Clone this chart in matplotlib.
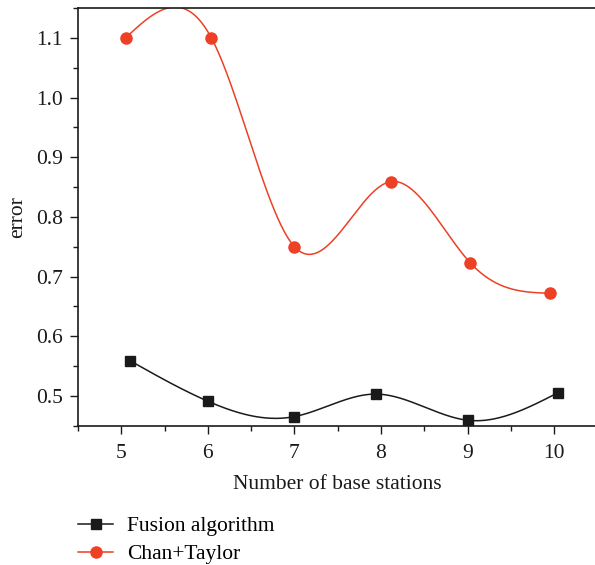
import numpy as np
import matplotlib
matplotlib.use("Agg")
import matplotlib.pyplot as plt
from matplotlib.ticker import MultipleLocator

plt.rcParams['font.family'] = ['Liberation Serif', 'DejaVu Serif']

fusion_x = [5.10, 6.00, 6.99, 7.94, 9.01, 10.04]
fusion_y = [0.559, 0.491, 0.465, 0.503, 0.459, 0.505]
chan_x = [5.05, 6.04, 7.00, 8.11, 9.03, 9.95]
chan_y = [1.100, 1.100, 0.750, 0.859, 0.723, 0.672]
labels = ["Fusion algorithm", "Chan+Taylor"]


def natural_spline(x, y, n=400):
    x = np.asarray(x, float); y = np.asarray(y, float)
    k = len(x); h = np.diff(x)
    A = np.zeros((k, k)); b = np.zeros(k)
    A[0, 0] = A[-1, -1] = 1
    for i in range(1, k - 1):
        A[i, i - 1] = h[i - 1]; A[i, i] = 2 * (h[i - 1] + h[i]); A[i, i + 1] = h[i]
        b[i] = 3 * ((y[i + 1] - y[i]) / h[i] - (y[i] - y[i - 1]) / h[i - 1])
    c = np.linalg.solve(A, b)
    xs = np.linspace(x[0], x[-1], n)
    idx = np.clip(np.searchsorted(x, xs) - 1, 0, k - 2)
    dx = xs - x[idx]
    bb = (y[1:] - y[:-1]) / h - h * (2 * c[:-1] + c[1:]) / 3
    d = (c[1:] - c[:-1]) / (3 * h)
    ys = y[idx] + bb[idx] * dx + c[idx] * dx ** 2 + d[idx] * dx ** 3
    return xs, ys


fig = plt.figure(figsize=(5.95, 5.65), dpi=100)
ax = fig.add_axes([78 / 595, 1 - 425.7 / 565, 519.5 / 595, (425.7 - 8) / 565])

black = '#1a1a1a'
red = '#ee4025'
for xv, yv, col, mk, lab in [(fusion_x, fusion_y, black, 's', labels[0]),
                              (chan_x, chan_y, red, 'o', labels[1])]:
    ms = 8 if mk == 'o' else 6.8
    xs, ys = natural_spline(xv, yv)
    ax.plot(xs, ys, color=col, lw=1.1)
    ax.plot(xv, yv, ls='none', marker=mk, color=col, ms=ms)
    ax.plot([], [], color=col, marker=mk, ms=ms, lw=1.1, label=lab)

ax.set_xlim(4.5, 10.5)
ax.set_ylim(0.45, 1.15)
ax.xaxis.set_major_locator(MultipleLocator(1))
ax.xaxis.set_minor_locator(MultipleLocator(0.5))
ax.yaxis.set_minor_locator(MultipleLocator(0.05))
ax.set_yticks([0.5, 0.6, 0.7, 0.8, 0.9, 1.0, 1.1])
ax.set_yticklabels(['0.5', '0.6', '0.7', '0.8', '0.9', '1.0', '1.1'])
ax.tick_params(which='major', direction='out', length=6, width=1, labelsize=15.5, colors=black)
ax.tick_params(which='minor', direction='out', length=3.5, width=1, colors=black)
ax.tick_params(axis='x', pad=7)
ax.tick_params(axis='y', pad=5)
for s in ['left', 'bottom', 'top']:
    ax.spines[s].set_linewidth(1.2)
    ax.spines[s].set_color(black)
ax.spines['right'].set_visible(False)

ax.set_xlabel("Number of base stations", fontsize=15.5, color=black, labelpad=9)
ax.set_ylabel("error", fontsize=15.5, color=black, labelpad=6)

fig.legend(loc='upper left', bbox_to_anchor=(0.131, 0.086), frameon=False,
           fontsize=15.5, handlelength=1.65, handletextpad=0.65, labelspacing=0.35,
           borderaxespad=0, borderpad=0)

fig.savefig("out.png", dpi=100)
